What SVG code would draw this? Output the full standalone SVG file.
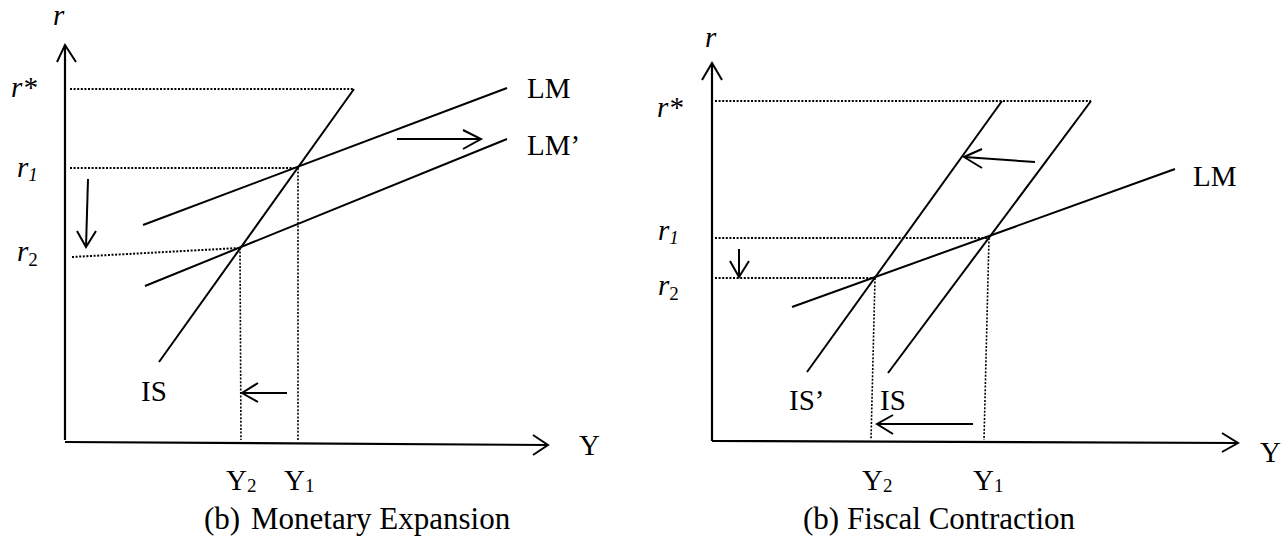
<svg xmlns="http://www.w3.org/2000/svg" width="1288" height="538" viewBox="0 0 1288 538">
<style>
.ln{stroke:#000;stroke-width:2;fill:none;stroke-linecap:butt;stroke-linejoin:miter}
.ax{stroke:#000;stroke-width:2.2;fill:none}
.dt{stroke:#000;stroke-width:2;fill:none;stroke-dasharray:2 1.6}
.dv{stroke:#000;stroke-width:1.6;fill:none;stroke-dasharray:2 1.6}
text{font-family:"Liberation Serif","Times New Roman",serif;fill:#000}
.lb{font-size:29px}
.it{font-size:29px;font-style:italic}
.sb{font-size:19px}
.cap{font-size:31px}
</style>
<rect width="1288" height="538" fill="#fff"/>

<!-- Left panel: Monetary Expansion -->
<g id="left-axes">
  <line class="ax" x1="65" y1="45" x2="65" y2="440"/>
  <polyline class="ln" points="57,62 65,45 76,62"/>
  <line class="ax" x1="65" y1="442" x2="548" y2="445"/>
  <polyline class="ln" points="533,435 548,445 533,455"/>
</g>
<g id="left-guides">
  <line class="dt" x1="70" y1="89" x2="354" y2="89"/>
  <line class="dt" x1="70" y1="168" x2="297" y2="168"/>
  <line class="dt" x1="72" y1="257" x2="239" y2="248"/>
  <line class="dv" x1="298" y1="168" x2="298" y2="440"/>
  <line class="dv" x1="240" y1="248" x2="241" y2="440"/>
</g>
<g id="left-curves">
  <line id="IS-left" class="ln" x1="354" y1="89" x2="159" y2="362"/>
  <line id="LM-left" class="ln" x1="143" y1="225" x2="507" y2="88"/>
  <line id="LMp-left" class="ln" x1="145" y1="286" x2="507" y2="139"/>
</g>
<g id="left-arrows">
  <line class="ln" x1="88" y1="179" x2="86" y2="247"/>
  <polyline class="ln" points="77,231 86,247 96,231"/>
  <line class="ln" x1="397" y1="139" x2="481" y2="139"/>
  <polyline class="ln" points="463,130 481,139 463,149"/>
  <line class="ln" x1="287" y1="393" x2="242" y2="393"/>
  <polyline class="ln" points="258,383 242,393 258,402"/>
</g>
<g id="left-labels">
  <text class="it" x="53" y="25">r</text>
  <text class="it" x="11" y="97">r*</text>
  <text class="it" x="17" y="177">r<tspan class="sb" dy="4">1</tspan></text>
  <text class="it" x="17" y="261">r<tspan class="sb" dy="5" font-style="normal">2</tspan></text>
  <text class="lb" x="527" y="98">LM</text>
  <text class="lb" x="527" y="155">LM’</text>
  <text class="lb" x="141" y="401">IS</text>
  <text class="lb" x="226" y="490">Y<tspan class="sb" dy="2">2</tspan></text>
  <text class="lb" x="284" y="490">Y<tspan class="sb" dy="2">1</tspan></text>
  <text class="lb" x="579" y="455">Y</text>
  <text class="cap" x="204" y="529">(b)<tspan x="251">Monetary Expansion</tspan></text>
</g>

<!-- Right panel: Fiscal Contraction -->
<g id="right-axes">
  <line class="ax" x1="712" y1="63" x2="712" y2="441"/>
  <polyline class="ln" points="702,80 712,63 722,80"/>
  <line class="ax" x1="712" y1="441" x2="1238" y2="443"/>
  <polyline class="ln" points="1222,433 1238,443 1222,452"/>
</g>
<g id="right-guides">
  <line class="dt" x1="715" y1="101" x2="1091" y2="101"/>
  <line class="dt" x1="715" y1="238" x2="989" y2="238"/>
  <line class="dt" x1="715" y1="278" x2="875" y2="278"/>
  <line class="dv" x1="875" y1="278" x2="871" y2="440"/>
  <line class="dv" x1="989" y1="238" x2="984" y2="440"/>
</g>
<g id="right-curves">
  <line id="ISp-right" class="ln" x1="1002" y1="101" x2="807" y2="372"/>
  <line id="IS-right" class="ln" x1="1091" y1="101" x2="888" y2="373"/>
  <line id="LM-right" class="ln" x1="792" y1="307" x2="1175" y2="169"/>
</g>
<g id="right-arrows">
  <line class="ln" x1="1035" y1="162" x2="964" y2="157"/>
  <polyline class="ln" points="982,149 964,157 982,168"/>
  <line class="ln" x1="739" y1="249" x2="739" y2="277"/>
  <polyline class="ln" points="730,261 739,277 749,261"/>
  <line class="ln" x1="973" y1="424" x2="877" y2="424"/>
  <polyline class="ln" points="893,415 877,424 893,434"/>
</g>
<g id="right-labels">
  <text class="it" x="705" y="47">r</text>
  <text class="it" x="657" y="117">r*</text>
  <text class="it" x="658" y="240">r<tspan class="sb" dy="4">1</tspan></text>
  <text class="it" x="658" y="295">r<tspan class="sb" dy="5" font-style="normal">2</tspan></text>
  <text class="lb" x="1193" y="186">LM</text>
  <text class="lb" x="789" y="410">IS’</text>
  <text class="lb" x="880" y="410">IS</text>
  <text class="lb" x="862" y="490">Y<tspan class="sb" dy="2">2</tspan></text>
  <text class="lb" x="973" y="490">Y<tspan class="sb" dy="2">1</tspan></text>
  <text class="lb" x="1260" y="462">Y</text>
  <text class="cap" x="803" y="529">(b) Fiscal Contraction</text>
</g>
</svg>
